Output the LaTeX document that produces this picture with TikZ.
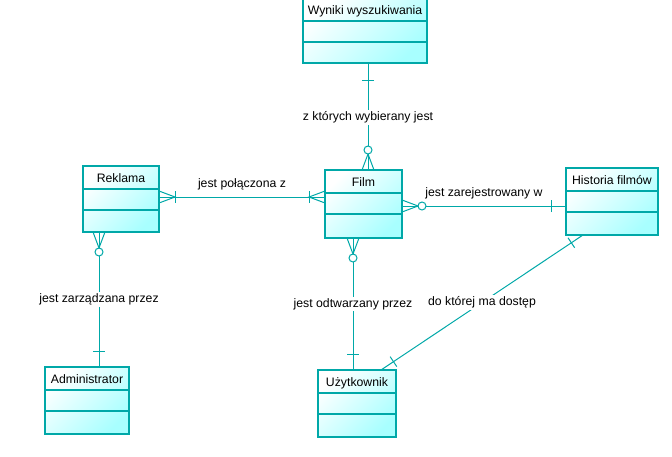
\documentclass[tikz,border=0pt]{standalone}
\usepackage{fontspec}
\setmainfont{Liberation Sans}
\usetikzlibrary{calc}
\definecolor{erline}{HTML}{00A8A8}
\definecolor{erlight}{HTML}{FFFFFF}
\definecolor{erdark}{HTML}{A8FFFF}
\tikzset{
 entbox/.style={rectangle, draw=erline, line width=1.2pt, top color=erlight, bottom color=erdark, shading angle=45, inner sep=0pt, outer sep=0pt},
 divline/.style={draw=erline, line width=1.2pt},
 conn/.style={draw=erline, line width=0.75pt},
 lbl/.style={font=\fontsize{9.2}{11}\selectfont, text=black, inner sep=1pt},
 gaplbl/.style={lbl, fill=white},
 enttitle/.style={font=\fontsize{9.2}{11}\selectfont, text=black, inner sep=0pt, anchor=base},
}
\newcommand\erent[6]{%
 \node[entbox, minimum width={(#4-#2)*0.75pt}, minimum height={(#5-#3)*0.75pt}] (#1) at ({(#2+#4)/2},{(#3+#5)/2}) {};
 \draw[divline] ($(#1.north west)+(0,23)$) -- ($(#1.north east)+(0,23)$);
 \draw[divline] ($(#1.north west)+(0,44)$) -- ($(#1.north east)+(0,44)$);
 \node[enttitle] (#1t) at ($(#1.north)+(0,16)$) {#6};
}
\newcommand\crowfoot[2]{%
 \begin{scope}[shift={(#1)}, rotate=#2]
  \draw[conn] (0,-6) -- (16,0) -- (0,6);
 \end{scope}}
\newcommand\tickmark[3]{%
 \begin{scope}[shift={(#1)}, rotate=#2]
  \draw[conn] (#3,-6) -- (#3,6);
 \end{scope}}
\newcommand\zeromark[2]{%
 \begin{scope}[shift={(#1)}, rotate=#2]
  \draw[conn, fill=white] (20,0) circle[radius=4];
 \end{scope}}
\begin{document}
\begin{tikzpicture}[x=0.75pt, y=-0.75pt]
\useasboundingbox (0,0) rectangle (672,457);
% entities
\erent{W}{303}{-2}{427}{63}{Wyniki wyszukiwania}
\erent{F}{325}{170}{402}{238}{Film}
\erent{R}{83}{166}{159}{232}{Reklama}
\erent{H}{566}{168}{658}{235}{Historia filmów}
\erent{A}{45}{367}{129}{434}{Administrator}
\erent{U}{318}{370}{396}{437}{Użytkownik}
% helper coordinates
\coordinate (wf) at (368,0);
\coordinate (rf) at (0,197);
\coordinate (fh) at (0,206);
\coordinate (fu) at (353,0);
\coordinate (ra) at (99,0);
\coordinate (hx) at (583,0);
\coordinate (ux) at (381,0);
% connectors
\draw[conn] (wf |- W.south) -- node[gaplbl, pos=0.51] {z których wybierany jest} (wf |- F.north);
\draw[conn] (R.east |- rf) -- node[lbl, midway, above=3.5pt] {jest połączona z} (F.west |- rf);
\draw[conn] (F.east |- fh) -- node[lbl, midway, above=4pt] {jest zarejestrowany w} (H.west |- fh);
\draw[conn] (fu |- F.south) -- node[gaplbl, midway] {jest odtwarzany przez} (fu |- U.north);
\draw[conn] (ra |- R.south) -- node[gaplbl, midway] {jest zarządzana przez} (ra |- A.north);
\draw[conn] (hx |- H.south) -- node[gaplbl, midway] {do której ma dostęp} (ux |- U.north);
% end marks
\tickmark{wf |- W.south}{-90}{17}
\crowfoot{wf |- F.north}{90}
\zeromark{wf |- F.north}{90}
\crowfoot{R.east |- rf}{0}
\tickmark{R.east |- rf}{0}{16}
\crowfoot{F.west |- rf}{180}
\tickmark{F.west |- rf}{180}{16}
\crowfoot{F.east |- fh}{0}
\zeromark{F.east |- fh}{0}
\tickmark{H.west |- fh}{180}{15}
\crowfoot{fu |- F.south}{-90}
\zeromark{fu |- F.south}{-90}
\tickmark{fu |- U.north}{90}{16}
\crowfoot{ra |- R.south}{-90}
\zeromark{ra |- R.south}{-90}
\tickmark{ra |- A.north}{90}{16}
\tickmark{hx |- H.south}{213.75}{14}
\tickmark{ux |- U.north}{33.75}{15}
\end{tikzpicture}
\end{document}
